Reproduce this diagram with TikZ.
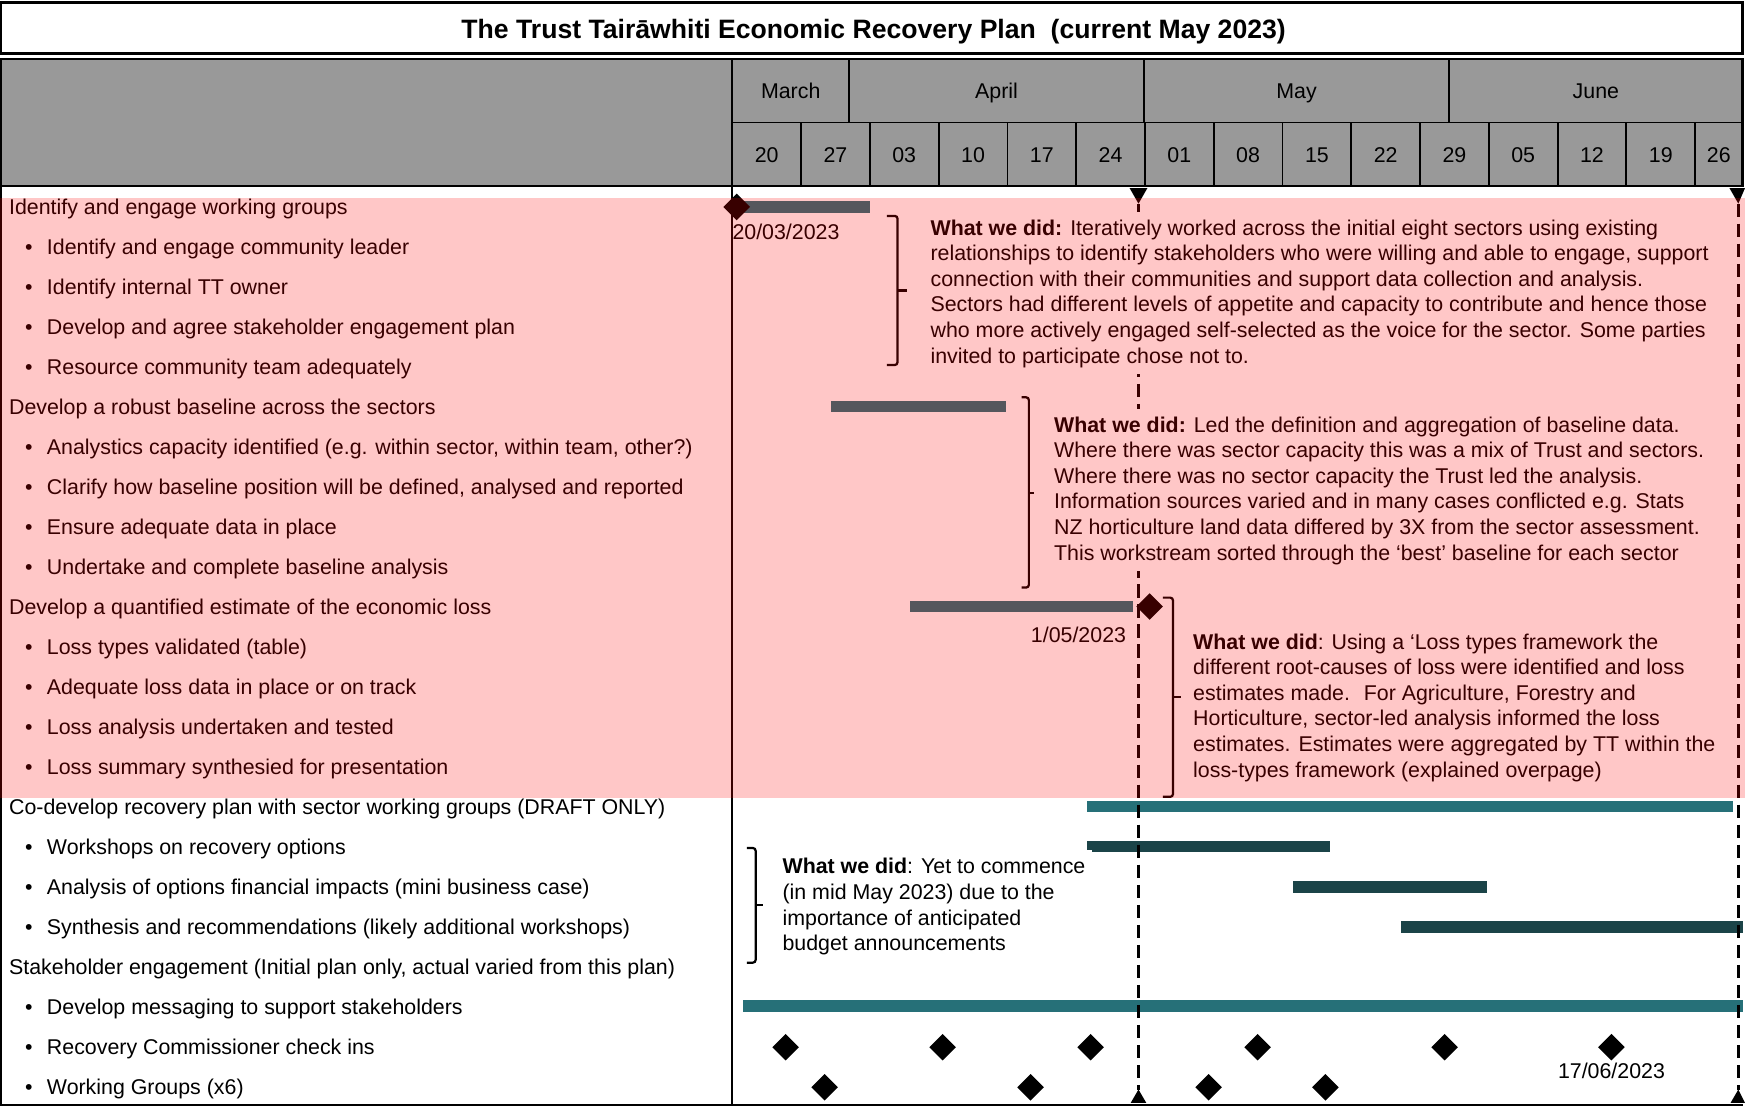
\documentclass[tikz,border=0pt]{standalone}
\usepackage{fontspec}
\setmainfont{Liberation Sans}
\usetikzlibrary{shapes.geometric}
\definecolor{hdrgray}{RGB}{153,153,153}
\definecolor{tealA}{RGB}{38,112,120}
\definecolor{tealB}{RGB}{27,68,72}
\tikzset{
  txt/.style={font=\fontsize{19.2}{23}\selectfont, inner sep=0pt},
  lbl/.style={txt, anchor=base west},
  bul/.style={txt, anchor=base},
  hdrtxt/.style={txt, anchor=base},
  note/.style={txt, anchor=north west, align=left, fill=white, inner xsep=6pt, inner ysep=6pt},
  gridline/.style={line width=1.6pt},
  frame/.style={line width=2.4pt},
  barA/.style={fill=tealA},
  barB/.style={fill=tealB},
  mstone/.style={diamond, fill=black, inner sep=0pt, minimum width=24pt, minimum height=24pt},
  brk/.style={line width=2pt, rounded corners=2.5pt},
  nowline/.style={line width=2.4pt, dash pattern=on 12pt off 6pt},
}
\begin{document}
\begin{tikzpicture}[x=1pt,y=-1pt]
\useasboundingbox (0,0) rectangle (1568,995);
\fill[white] (0,0) rectangle (1568,995);
% title
\draw[frame, fill=white] (1,2) rectangle (1566,48);
\node[font=\bfseries\fontsize{23.9}{28}\selectfont, inner sep=0pt, anchor=base] (title) at (785,34.5) {The Trust Tairāwhiti Economic Recovery Plan~ (current May 2023)};
% header
\fill[hdrgray] (1,53) rectangle (1566,167);
\draw[gridline] (658,110) -- (1566,110);
\foreach \x in {763,1028,1302} \draw[gridline] (\x,53) -- (\x,110);
\foreach \k in {1,...,14} \draw[gridline] ({658+61.8*\k},110) -- ({658+61.8*\k},167);
\draw[frame] (1,53) rectangle (1566,167);
\draw[gridline] (658,53) -- (658,167);
\node[hdrtxt] (mMar) at (710.5,88.8) {March};
\node[hdrtxt] (mApr) at (895.5,88.8) {April};
\node[hdrtxt] (mMay) at (1165,88.8) {May};
\node[hdrtxt] (mJun) at (1434,88.8) {June};
\foreach \k/\wk in {0/20,1/27,2/03,3/10,4/17,5/24,6/01,7/08,8/15,9/22,10/29,11/05,12/12,13/19}
  \node[hdrtxt] (w\k) at ({688.9+61.8*\k},145.8) {\wk};
\node[hdrtxt] (w14) at (1544.5,145.8) {26};
% body frame
\draw[frame] (1,167) -- (1,993) -- (1566,993);
\draw[gridline] (658,167) -- (658,993);
% bars
\fill[barA] (662,181) rectangle (781.6,191);
\fill[barA] (747,360.5) rectangle (904,370.5);
\fill[barA] (818,540) rectangle (1018,550);
\fill[barA] (977,719.5) rectangle (1557,730);
\fill[barB] (977,756) rectangle (1195,766);
\fill[barB] (1162,792) rectangle (1336,802);
\fill[barB] (1259,828) rectangle (1566,838);
\fill[barA] (668,899) rectangle (1566,909);
% status lines
\coordinate (nowT) at (1023,183);
\coordinate (nowB) at (1023,979);
\draw[nowline] (nowT) -- (nowB);
\fill (1015,169) -- (1031,169) -- (nowT) -- cycle;
\fill (1016,991) -- (1030,991) -- (nowB) -- cycle;
\coordinate (endT) at (1562,183);
\coordinate (endB) at (1562,979);
\draw[nowline] (endT) -- (endB);
\fill (1554,169) -- (1568,169) -- (endT) -- cycle;
\fill (1555,991) -- (1568,991) -- (endB) -- cycle;
% notes
\node[note] (t1) at (830,190) {\rule{0pt}{15pt}\textbf{What we did:} Iteratively worked across the initial eight sectors using existing\\relationships to identify stakeholders who were willing and able to engage, support\\connection with their communities and support data collection and analysis.\\Sectors had different levels of appetite and capacity to contribute and hence those\\who more actively engaged self-selected as the voice for the sector. Some parties\\invited to participate chose not to.};
\node[note] (t2) at (941,367) {\rule{0pt}{15pt}\textbf{What we did:} Led the definition and aggregation of baseline data.\\Where there was sector capacity this was a mix of Trust and sectors.\\Where there was no sector capacity the Trust led the analysis.\\Information sources varied and in many cases conflicted e.g. Stats\\NZ horticulture land data differed by 3X from the sector assessment.\\This workstream sorted through the ‘best’ baseline for each sector};
\node[note] (t3) at (1066,562) {\rule{0pt}{15pt}\textbf{What we did}: Using a ‘Loss types framework the\\different root-causes of loss were identified and loss\\estimates made.~ For Agriculture, Forestry and\\Horticulture, sector-led analysis informed the loss\\estimates. Estimates were aggregated by TT within the\\loss-types framework (explained overpage)};
\node[note] (t4) at (697,764) {\rule{0pt}{15pt}\textbf{What we did}: Yet to commence\\(in mid May 2023) due to the\\importance of anticipated\\budget announcements};
% brackets
\draw[brk] (797,194) -- (806.5,194) -- (806.5,328) -- (797,328);
\draw[brk] (806.5,261) -- (815,261);
\draw[brk] (918,357) -- (924.5,357) -- (924.5,528) -- (918,528);
\draw[brk] (924.5,443) -- (929,443);
\draw[brk] (1045,537) -- (1054,537) -- (1054,716) -- (1045,716);
\draw[brk] (1054,626) -- (1061,626);
\draw[brk] (671,762) -- (679,762) -- (679,865) -- (671,865);
\draw[brk] (679,813) -- (686,813);
% milestones
\node[mstone] (m0) at (662,186) {};
\node[mstone] (m1) at (1033,545) {};
\foreach \x [count=\n] in {706,847,980,1130,1298,1448} \node[mstone] (rc\n) at (\x,941) {};
\foreach \x [count=\n] in {741,926,1086,1191} \node[mstone] (wg\n) at (\x,977) {};
\node[lbl] (d0) at (658,215) {20/03/2023};
\node[txt, anchor=base east] (d1) at (1012,577.5) {1/05/2023};
\node[txt, anchor=base] (d2) at (1448,969.5) {17/06/2023};
% row labels
\foreach \i/\lab in {0/{Identify and engage working groups},5/{Develop a robust baseline across the sectors},10/{Develop a quantified estimate of the economic loss},15/{Co-develop recovery plan with sector working groups (DRAFT ONLY)},19/{Stakeholder engagement (Initial plan only, actual varied from this plan)}}
  \node[lbl] (row\i) at (8,{192.3+35.95*\i}) {\lab};
\foreach \i/\lab in {1/{Identify and engage community leader},2/{Identify internal TT owner},3/{Develop and agree stakeholder engagement plan},4/{Resource community team adequately},6/{Analystics capacity identified (e.g. within sector, within team, other?)},7/{Clarify how baseline position will be defined, analysed and reported},8/{Ensure adequate data in place},9/{Undertake and complete baseline analysis},11/{Loss types validated (table)},12/{Adequate loss data in place or on track},13/{Loss analysis undertaken and tested},14/{Loss summary synthesied for presentation},16/{Workshops on recovery options},17/{Analysis of options financial impacts (mini business case)},18/{Synthesis and recommendations (likely additional workshops)},20/{Develop messaging to support stakeholders},21/{Recovery Commissioner check ins},22/{Working Groups (x6)}}
  {\node[bul] (bul\i) at (26,{192.3+35.95*\i}) {•};
   \node[lbl] (row\i) at (42,{192.3+35.95*\i}) {\lab};}
% highlight overlay
\fill[red, opacity=0.22] (0,178) rectangle (1568,717);
\end{tikzpicture}
\end{document}
